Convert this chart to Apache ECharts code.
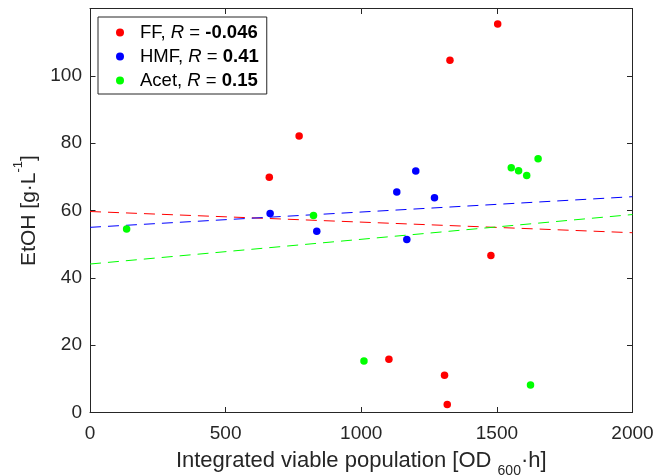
<!DOCTYPE html>
<html>
<head>
<meta charset="UTF-8">
<title>EtOH vs integrated viable population</title>
<script src="https://cdn.jsdelivr.net/npm/echarts@6/dist/echarts.min.js"></script>
<style>
  html, body { margin: 0; padding: 0; background: #fff; }
  #main { width: 669px; height: 476px; }
</style>
</head>
<body>
<div id="main"></div>
<script>
// scatter points [integrated viable population, EtOH]
var ffPts = [[661, 69.9], [771, 82.1], [1327, 104.6], [1503, 115.4], [1478, 46.6], [1102, 15.8], [1307, 11.1], [1317, 2.4]];
var hmfPts = [[664, 59.1], [836, 53.8], [1131, 65.5], [1201, 71.7], [1270, 63.8], [1168, 51.4]];
var acetPts = [[135, 54.5], [824, 58.5], [1010, 15.3], [1624, 8.2], [1553, 72.7], [1580, 71.8], [1610, 70.4], [1652, 75.4]];

// linear fits, read at x = 0 and x = 2000
var fitX = [0, 2000];
var ffFit = [59.7, 53.4];
var hmfFit = [55.0, 64.1];
var acetFit = [44.1, 58.8];

var names = ['FF', 'HMF', 'Acet'];
var rVals = ['-0.046', '0.41', '0.15'];
var colors = ['#ff0000', '#0000ff', '#00ff00'];

var font = 'Liberation Sans, Arial, sans-serif';
var axisCol = '#262626';

function fitLine(fit) {
  return fitX.map(function (x, i) { return [x, fit[i]]; });
}

var myChart = echarts.init(document.getElementById('main'));

var frameAxis = {
  axisLine: { show: true, onZero: false, lineStyle: { color: axisCol, width: 1 } },
  axisTick: { show: true, inside: true, length: 5.5, lineStyle: { color: axisCol } },
  splitLine: { show: false }
};

var option = {
  animation: false,
  backgroundColor: '#fff',
  textStyle: { fontFamily: font },
  grid: { left: 90, right: 36.5, top: 8.5, bottom: 63.5, containLabel: false, outerBoundsMode: 'none' },
  legend: {
    data: names,
    orient: 'vertical',
    left: 98,
    top: 17,
    padding: [6, 8, 4, 18],
    itemGap: 5,
    itemWidth: 8,
    itemHeight: 8,
    icon: 'circle',
    borderColor: axisCol,
    borderWidth: 1,
    backgroundColor: '#fff',
    formatter: function (name) {
      var i = names.indexOf(name);
      return '{f|' + name + ', }{i|R}{n| = }{b|' + rVals[i] + '}';
    },
    textStyle: {
      fontFamily: font,
      fontSize: 18.5,
      color: '#000',
      rich: {
        f: { fontFamily: font, fontSize: 18.5, color: '#000', padding: [0, 0, 0, 11] },
        n: { fontFamily: font, fontSize: 18.5, color: '#000' },
        i: { fontFamily: font, fontSize: 18.5, fontStyle: 'italic', color: '#000' },
        b: { fontFamily: font, fontSize: 18.5, fontWeight: 'bold', color: '#000' }
      }
    }
  },
  xAxis: [
    Object.assign({
      type: 'value',
      min: 0,
      max: 2000,
      interval: 500,
      position: 'bottom',
      name: '{m|Integrated viable population [OD }{s|600}{m|·h]}',
      nameLocation: 'middle',
      nameGap: 37,
      nameTextStyle: {
        rich: {
          m: { fontFamily: font, fontSize: 22, lineHeight: 22, color: axisCol, verticalAlign: 'top' },
          s: { fontFamily: font, fontSize: 14, lineHeight: 14, color: axisCol, verticalAlign: 'top', padding: [15, 0, 0, 0] }
        }
      },
      axisLabel: {
        fontFamily: font, fontSize: 19, color: axisCol, margin: 12,
        formatter: function (v) { return String(v); }
      }
    }, frameAxis),
    Object.assign({
      type: 'value',
      min: 0,
      max: 2000,
      interval: 500,
      position: 'top',
      axisLabel: { show: false }
    }, frameAxis)
  ],
  yAxis: [
    Object.assign({
      type: 'value',
      min: 0,
      max: 120,
      interval: 20,
      position: 'left',
      name: '{m|EtOH [g·L}{p|-1}{m|]}',
      nameLocation: 'middle',
      nameGap: 44,
      nameTextStyle: {
        rich: {
          m: { fontFamily: font, fontSize: 21, lineHeight: 21, color: axisCol, verticalAlign: 'top', padding: [6, 0, 0, 0] },
          p: { fontFamily: font, fontSize: 13, lineHeight: 13, color: axisCol, verticalAlign: 'top' }
        }
      },
      axisLabel: {
        fontFamily: font, fontSize: 19, color: axisCol, margin: 8, showMaxLabel: false,
        formatter: function (v) { return String(v); }
      }
    }, frameAxis),
    Object.assign({
      type: 'value',
      min: 0,
      max: 120,
      interval: 20,
      position: 'right',
      axisLabel: { show: false }
    }, frameAxis)
  ],
  series: [
    { name: 'FF fit', type: 'line', data: fitLine(ffFit), symbol: 'none', silent: true, z: 1,
      lineStyle: { color: colors[0], width: 1, type: [11, 7] } },
    { name: 'HMF fit', type: 'line', data: fitLine(hmfFit), symbol: 'none', silent: true, z: 1,
      lineStyle: { color: colors[1], width: 1, type: [11, 7] } },
    { name: 'Acet fit', type: 'line', data: fitLine(acetFit), symbol: 'none', silent: true, z: 1,
      lineStyle: { color: colors[2], width: 1, type: [11, 7] } },
    { name: 'FF', type: 'scatter', data: ffPts, symbol: 'circle', symbolSize: 7.5, z: 3,
      itemStyle: { color: colors[0], opacity: 1 } },
    { name: 'HMF', type: 'scatter', data: hmfPts, symbol: 'circle', symbolSize: 7.5, z: 3,
      itemStyle: { color: colors[1], opacity: 1 } },
    { name: 'Acet', type: 'scatter', data: acetPts, symbol: 'circle', symbolSize: 7.5, z: 3,
      itemStyle: { color: colors[2], opacity: 1 } }
  ]
};

myChart.setOption(option);
</script>
</body>
</html>
